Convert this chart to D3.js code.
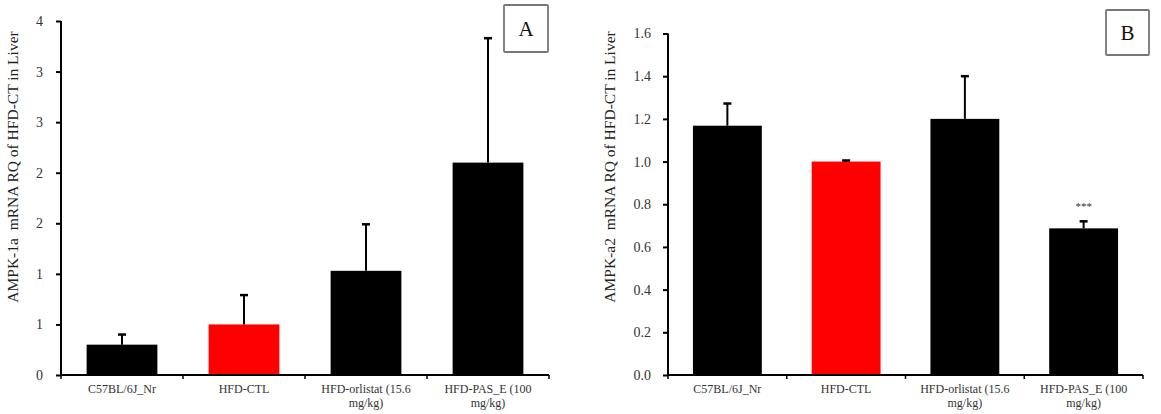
<!DOCTYPE html>
<html><head><meta charset="utf-8">
<script src="https://cdn.jsdelivr.net/npm/d3@7"></script>
<style>
body{margin:0;background:#fff;}
svg{display:block;}
text{font-family:"Liberation Serif","Times New Roman",serif;}
</style></head>
<body>
<svg id="c" width="1161" height="414"></svg>
<script>
const categories = ["C57BL/6J_Nr", "HFD-CTL", "HFD-orlistat (15.6 mg/kg)", "HFD-PAS_E (100 mg/kg)"];
const categoryLines = [["C57BL/6J_Nr"], ["HFD-CTL"], ["HFD-orlistat (15.6", "mg/kg)"], ["HFD-PAS_E (100", "mg/kg)"]];
const barColors = ["#000000", "#ff0000", "#000000", "#000000"];

const valuesA = [0.30, 0.50, 1.03, 2.10];
const errorsA = [0.10, 0.29, 0.46, 1.23];
const ticksA = [0, 0.5, 1, 1.5, 2, 2.5, 3, 3.5];
const tickLabelsA = ["0", "1", "1", "2", "2", "3", "3", "4"];

const valuesB = [1.168, 1.0, 1.20, 0.687];
const errorsB = [0.104, 0.005, 0.20, 0.033];
const ticksB = [0, 0.2, 0.4, 0.6, 0.8, 1.0, 1.2, 1.4, 1.6];
const tickLabelsB = ["0.0", "0.2", "0.4", "0.6", "0.8", "1.0", "1.2", "1.4", "1.6"];
const sigB = ["", "", "", "***"];

const svg = d3.select("#c");

function panel(cfg) {
  const g = svg.append("g");
  const x = d3.scaleBand().domain(categories).range([cfg.x0, cfg.x1]).paddingInner(0.42).paddingOuter(0.21);
  const y = d3.scaleLinear().domain([0, cfg.max]).range([cfg.y0, cfg.y1]);

  g.selectAll("rect.bar").data(categories).enter().append("rect")
    .attr("x", d => x(d)).attr("width", x.bandwidth())
    .attr("y", (d, i) => y(cfg.values[i]))
    .attr("height", (d, i) => y(0) - y(cfg.values[i]))
    .attr("fill", (d, i) => barColors[i]);

  const cx = d => x(d) + x.bandwidth() / 2;
  g.selectAll("line.err").data(categories).enter().append("line")
    .attr("x1", cx).attr("x2", cx)
    .attr("y1", (d, i) => y(cfg.values[i]))
    .attr("y2", (d, i) => y(cfg.values[i] + cfg.errors[i]))
    .attr("stroke", "#000").attr("stroke-width", 2);
  g.selectAll("line.cap").data(categories).enter().append("line")
    .attr("x1", d => cx(d) - 4).attr("x2", d => cx(d) + 4)
    .attr("y1", (d, i) => y(cfg.values[i] + cfg.errors[i]))
    .attr("y2", (d, i) => y(cfg.values[i] + cfg.errors[i]))
    .attr("stroke", "#000").attr("stroke-width", 2.5);

  if (cfg.sig) {
    g.selectAll("text.sig").data(categories).enter().append("text")
      .attr("x", cx).attr("y", (d, i) => y(cfg.values[i] + cfg.errors[i]) - 11)
      .attr("text-anchor", "middle").attr("font-size", 11).attr("fill", "#333")
      .text((d, i) => cfg.sig[i]);
  }

  const yAxis = d3.axisLeft(y).tickValues(cfg.ticks).tickSize(5).tickPadding(cfg.pad)
    .tickFormat((d, i) => cfg.tickLabels[i]);
  const ya = g.append("g").attr("transform", `translate(${cfg.x0},0)`).call(yAxis);
  ya.select(".domain").attr("stroke", "#000").attr("stroke-width", 2).attr("d", `M0,${cfg.y0 + 1}V${cfg.y1}`);
  ya.selectAll(".tick line").attr("stroke", "#000").attr("stroke-width", 2);
  ya.selectAll(".tick text").attr("font-family", "Liberation Serif, serif").attr("font-size", 14).attr("fill", "#333");

  g.append("line").attr("x1", cfg.x0 - 1).attr("x2", cfg.x1).attr("y1", y(0)).attr("y2", y(0))
    .attr("stroke", "#000").attr("stroke-width", 2);
  const bounds = categories.map(d => x(d) - x.step() * 0.21).concat([cfg.x1]);
  g.selectAll("line.xt").data(bounds).enter().append("line")
    .attr("x1", d => d).attr("x2", d => d).attr("y1", y(0)).attr("y2", y(0) + 4)
    .attr("stroke", "#000").attr("stroke-width", 1.5);

  const lbl = g.selectAll("text.cat").data(categories).enter().append("text")
    .attr("text-anchor", "middle").attr("font-size", 12).attr("fill", "#333");
  lbl.each(function (d, i) {
    const t = d3.select(this);
    categoryLines[i].forEach((ln, k) => {
      t.append("tspan").attr("x", cx(d)).attr("y", y(0) + 17.5 + k * 14).text(ln);
    });
  });

  g.append("text").attr("transform", `translate(${cfg.titleX},${cfg.titleY}) rotate(-90)`)
    .attr("text-anchor", "middle").attr("font-size", 15.5).attr("fill", "#222")
    .attr("xml:space", "preserve").style("white-space", "pre")
    .text(cfg.title);

  g.append("rect").attr("x", cfg.box[0]).attr("y", cfg.box[1]).attr("width", cfg.box[2]).attr("height", cfg.box[3])
    .attr("fill", "#fff").attr("stroke", "#777").attr("stroke-width", 1.8).attr("rx", 1);
  g.append("text").attr("x", cfg.box[0] + cfg.box[2] / 2).attr("y", cfg.box[1] + cfg.box[3] / 2 + 7)
    .attr("text-anchor", "middle").attr("font-size", 21).attr("fill", "#111").text(cfg.letter);
}

panel({
  x0: 61, x1: 549, y0: 375, y1: 21, max: 3.5, pad: 13,
  values: valuesA, errors: errorsA, ticks: ticksA, tickLabels: tickLabelsA,
  title: "AMPK-1a  mRNA RQ of HFD-CT in Liver", titleX: 18, titleY: 167,
  box: [504, 5, 44, 47], letter: "A"
});

panel({
  x0: 668, x1: 1143, y0: 375, y1: 33.5, max: 1.6, pad: 12,
  values: valuesB, errors: errorsB, ticks: ticksB, tickLabels: tickLabelsB, sig: sigB,
  title: "AMPK-a2  mRNA RQ of HFD-CT in Liver", titleX: 615, titleY: 167,
  box: [1106, 10, 43, 45], letter: "B"
});
</script>
</body></html>
